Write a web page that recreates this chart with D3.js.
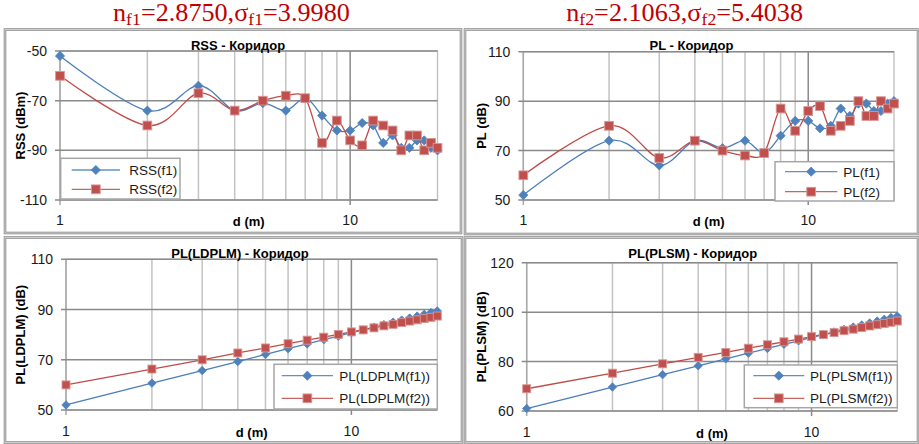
<!DOCTYPE html>
<html>
<head>
<meta charset="utf-8">
<script src="https://cdn.jsdelivr.net/npm/d3@7"></script>
<style>
  html, body { margin: 0; padding: 0; background: #ffffff; }
  svg { display: block; font-family: "Liberation Sans", Arial, sans-serif; }
</style>
</head>
<body>
<svg id="chart" width="919" height="444"></svg>
<script>
// Measurement distances along the corridor (m)
const distances = [1, 2, 3, 4, 5, 6, 7, 8, 9, 10, 11, 12, 13, 14, 15, 16, 17, 18, 19, 20];

// Received signal strength (dBm)
const rssF1 = [-52, -74, -64, -74, -71, -74, -69, -76, -82, -82, -79, -80, -87, -84, -89, -89, -86, -86, -89, -90];
const rssF2 = [-60, -80, -67, -74, -70, -68, -69, -87, -78, -86, -88, -78, -80, -82, -90, -84, -84, -90, -87, -89];

// Measured path loss (dB)
const plF1 = [52, 74, 64, 74, 71, 74, 69, 76, 82, 82, 79, 80, 87, 84, 89, 89, 86, 86, 89, 90];
const plF2 = [60, 80, 67, 74, 70, 68, 69, 87, 78, 86, 88, 78, 80, 82, 90, 84, 84, 90, 87, 89];

// Log-distance path loss model (dB)
const ldplmF1 = [52.0, 60.7, 65.7, 69.3, 72.1, 74.4, 76.3, 78.0, 79.4, 80.8, 81.9, 83.0, 84.0, 85.0, 85.8, 86.6, 87.4, 88.1, 88.8, 89.4];
const ldplmF2 = [60.0, 66.3, 70.0, 72.7, 74.7, 76.4, 77.8, 79.0, 80.1, 81.1, 81.9, 82.7, 83.5, 84.1, 84.8, 85.4, 85.9, 86.4, 86.9, 87.4];

// PLSM model path loss (dB)
const plsmF1 = [61.0, 69.7, 74.7, 78.3, 81.1, 83.4, 85.3, 87.0, 88.4, 89.8, 90.9, 92.0, 93.0, 94.0, 94.8, 95.6, 96.4, 97.1, 97.8, 98.4];
const plsmF2 = [69.0, 75.3, 79.1, 81.7, 83.7, 85.4, 86.8, 88.0, 89.1, 90.1, 90.9, 91.7, 92.5, 93.1, 93.8, 94.4, 94.9, 95.4, 95.9, 96.4];

// Axis ticks
const xTickLabels = [1, 10];
const xMinorGrid = [2, 3, 4, 5, 6, 7, 8, 9];
const rssTicks = [-110, -90, -70, -50];
const plTicks = [50, 70, 90, 110];
const plsmTicks = [60, 80, 100, 120];

// Fitted parameters shown above the panels
const headerF1 = { sub: "f1", n: "2.8750", sigma: "3.9980" };
const headerF2 = { sub: "f2", n: "2.1063", sigma: "5.4038" };

const styles = {
  f1: { line: "#4A7EBB", fill: "#4F81BD", stroke: "#4F81BD", shape: "diamond" },
  f2: { line: "#BE4B48", fill: "#C0504D", stroke: "#D99694", shape: "square" }
};

const svg = d3.select("#chart");

const panels = [
  {
    frame: [5, 29.5, 461, 233], plot: [60, 51, 437.5, 200],
    yDomain: [-110, -50], yTicks: rssTicks,
    title: "RSS - Коридор", titleX: 238, titleY: 49.5,
    yLabel: "RSS (dBm)", yLabelX: 20, xLabelDy: 25, smooth: true, msize: 4.6,
    series: [
      { name: "RSS(f1)", values: rssF1, key: "f1" },
      { name: "RSS(f2)", values: rssF2, key: "f2" }
    ],
    legend: { box: [60.7, 158.3, 180, 199], rows: [170, 189.3], line: [71.7, 120], text: 129.3 }
  },
  {
    frame: [465, 29.5, 918, 234], plot: [523.3, 51.7, 894, 200],
    yDomain: [50, 110], yTicks: plTicks,
    title: "PL - Коридор", titleX: 691.5, titleY: 49.5,
    yLabel: "PL (dB)", yLabelX: 481.7, xLabelDy: 25, smooth: true, msize: 4.6,
    series: [
      { name: "PL(f1)", values: plF1, key: "f1" },
      { name: "PL(f2)", values: plF2, key: "f2" }
    ],
    legend: { box: [775, 161.7, 894, 201], rows: [171.7, 191.7], line: [785, 837.3], text: 843.3 }
  },
  {
    frame: [5, 237.5, 462, 442.5], plot: [66, 259.3, 437.3, 410],
    yDomain: [50, 110], yTicks: plTicks,
    title: "PL(LDPLM) - Коридор", titleX: 240, titleY: 257.5,
    yLabel: "PL(LDPLM) (dB)", yLabelX: 20, xLabelDy: 26, smooth: false, msize: 4.2,
    series: [
      { name: "PL(LDPLM(f1))", values: ldplmF1, key: "f1" },
      { name: "PL(LDPLM(f2))", values: ldplmF2, key: "f2" }
    ],
    legend: { box: [274, 364.3, 437.3, 409], rows: [375.7, 398.3], line: [281.7, 333], text: 339.3 }
  },
  {
    frame: [465, 237.5, 918, 442.5], plot: [526.7, 262.7, 897.3, 411],
    yDomain: [60, 120], yTicks: plsmTicks,
    title: "PL(PLSM) - Коридор", titleX: 692.8, titleY: 257.5,
    yLabel: "PL(PLSM) (dB)", yLabelX: 481.7, xLabelDy: 26, smooth: false, msize: 4.2,
    series: [
      { name: "PL(PLSM(f1))", values: plsmF1, key: "f1" },
      { name: "PL(PLSM(f2))", values: plsmF2, key: "f2" }
    ],
    legend: { box: [744.3, 365, 897.3, 407.7], rows: [375.7, 398.3], line: [753.3, 804.3], text: 810 }
  }
];

function drawMarker(g, shape, x, y, r, st) {
  if (shape === "diamond") {
    g.append("path")
      .attr("d", `M${x},${y - r}L${x + r},${y}L${x},${y + r}L${x - r},${y}Z`)
      .attr("fill", st.fill).attr("stroke", st.stroke).attr("stroke-width", 0.8);
  } else {
    const s = r * 0.95;
    g.append("rect")
      .attr("x", x - s).attr("y", y - s).attr("width", 2 * s).attr("height", 2 * s)
      .attr("fill", st.fill).attr("stroke", st.stroke).attr("stroke-width", 0.9);
  }
}

function drawPanel(p) {
  const g = svg.append("g");
  const [fx0, fy0, fx1, fy1] = p.frame;
  const [px0, py0, px1, py1] = p.plot;

  // panel frame (double grey rule)
  g.append("rect").attr("x", fx0).attr("y", fy0).attr("width", fx1 - fx0).attr("height", fy1 - fy0)
    .attr("fill", "#fff").attr("stroke", "#8f8f8f").attr("stroke-width", 2.6);
  g.append("rect").attr("x", fx0).attr("y", fy0).attr("width", fx1 - fx0).attr("height", fy1 - fy0)
    .attr("fill", "none").attr("stroke", "#dcdcdc").attr("stroke-width", 0.8);

  const x = d3.scaleLog().domain([1, 20]).range([px0, px1]);
  const y = d3.scaleLinear().domain(p.yDomain).range([py1, py0]);

  // plot area outline
  g.append("rect").attr("x", px0).attr("y", py0).attr("width", px1 - px0).attr("height", py1 - py0)
    .attr("fill", "none").attr("stroke", "#bdbdbd").attr("stroke-width", 1.3);

  // minor vertical gridlines
  g.selectAll(".minor").data(xMinorGrid).join("line")
    .attr("x1", d => x(d)).attr("x2", d => x(d)).attr("y1", py0).attr("y2", py1)
    .attr("stroke", "#c3c3c3").attr("stroke-width", 1.5);

  // major vertical gridline at 10 and left axis line
  g.append("line").attr("x1", x(10)).attr("x2", x(10)).attr("y1", py0).attr("y2", py1 + 5)
    .attr("stroke", "#8a8a8a").attr("stroke-width", 1.5);
  g.append("line").attr("x1", x(1)).attr("x2", x(1)).attr("y1", py0).attr("y2", py1 + 5)
    .attr("stroke", "#a9a9a9").attr("stroke-width", 1.5);

  // horizontal major gridlines with outward ticks
  g.selectAll(".hgrid").data(p.yTicks).join("line")
    .attr("x1", px0 - 5).attr("x2", px1).attr("y1", d => y(d)).attr("y2", d => y(d))
    .attr("stroke", "#8a8a8a").attr("stroke-width", 1.5);

  // y tick labels
  g.selectAll(".ylab").data(p.yTicks).join("text")
    .attr("x", px0 - 13).attr("y", d => y(d) + 5)
    .attr("text-anchor", "end").attr("font-size", 14).attr("fill", "#1a1a1a")
    .text(d => d);

  // x tick labels
  g.selectAll(".xlab").data(xTickLabels).join("text")
    .attr("x", d => x(d)).attr("y", py1 + p.xLabelDy)
    .attr("text-anchor", "middle").attr("font-size", 14).attr("fill", "#1a1a1a")
    .text(d => d);

  // titles
  g.append("text").attr("x", p.titleX).attr("y", p.titleY)
    .attr("text-anchor", "middle").attr("font-size", 13).attr("font-weight", "bold").attr("fill", "#000")
    .text(p.title);
  g.append("text").attr("x", (px0 + px1) / 2).attr("y", py1 + p.xLabelDy + 1)
    .attr("text-anchor", "middle").attr("font-size", 13).attr("font-weight", "bold").attr("fill", "#000")
    .text("d (m)");
  g.append("text")
    .attr("transform", `translate(${p.yLabelX},${(py0 + py1) / 2}) rotate(-90)`)
    .attr("dy", "0.35em").attr("text-anchor", "middle")
    .attr("font-size", 13).attr("font-weight", "bold").attr("fill", "#000")
    .text(p.yLabel);

  // series
  const line = d3.line()
    .x((d, i) => x(distances[i]))
    .y(d => y(d))
    .curve(p.smooth ? d3.curveCardinal.tension(0) : d3.curveLinear);

  p.series.forEach(s => {
    const st = styles[s.key];
    g.append("path").datum(s.values)
      .attr("d", line).attr("fill", "none")
      .attr("stroke", st.line).attr("stroke-width", 1.3);
  });
  p.series.forEach(s => {
    const st = styles[s.key];
    const mg = g.append("g");
    s.values.forEach((v, i) => drawMarker(mg, st.shape, x(distances[i]), y(v), p.msize, st));
  });

  // legend
  const L = p.legend;
  g.append("rect").attr("x", L.box[0]).attr("y", L.box[1])
    .attr("width", L.box[2] - L.box[0]).attr("height", L.box[3] - L.box[1])
    .attr("fill", "#fff").attr("stroke", "#a6a6a6").attr("stroke-width", 1.5);
  p.series.forEach((s, i) => {
    const st = styles[s.key];
    const ry = L.rows[i];
    g.append("line").attr("x1", L.line[0]).attr("x2", L.line[1]).attr("y1", ry).attr("y2", ry)
      .attr("stroke", st.line).attr("stroke-width", 1.3).attr("opacity", 0.85);
    drawMarker(g, st.shape, (L.line[0] + L.line[1]) / 2, ry, 4.6, st);
    g.append("text").attr("x", L.text).attr("y", ry + 5)
      .attr("font-size", 13.5).attr("fill", "#1a1a1a").text(s.name);
  });
}

panels.forEach(drawPanel);

// fitted-parameter headers
function drawHeader(h, cx, width) {
  const t = svg.append("text")
    .attr("font-family", "'Liberation Serif', 'Times New Roman', serif")
    .attr("font-size", 25).attr("fill", "#C00000").attr("y", 21);
  t.append("tspan").text("n");
  t.append("tspan").attr("font-size", 17).attr("dy", 4).text(h.sub);
  t.append("tspan").attr("dy", -4).text("=" + h.n + ",σ");
  t.append("tspan").attr("font-size", 17).attr("dy", 4).text(h.sub);
  t.append("tspan").attr("dy", -4).text("=" + h.sigma);
  const w = t.node().getComputedTextLength();
  const sx = width / w;
  t.attr("transform", `translate(${cx - width / 2},0) scale(${sx},1)`);
}
drawHeader(headerF1, 231.5, 237);
drawHeader(headerF2, 684.7, 237);
</script>
</body>
</html>
